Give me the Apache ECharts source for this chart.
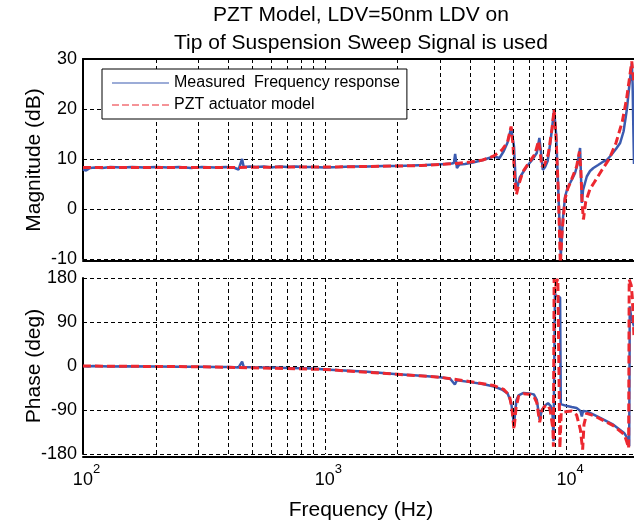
<!DOCTYPE html>
<html><head><meta charset="utf-8">
<script src="https://cdn.jsdelivr.net/npm/echarts@6/dist/echarts.min.js"></script>
<style>html,body{margin:0;padding:0;background:#fff}#c{width:634px;height:527px}</style>
</head><body><div id="c"></div>
<script>
// ---- data ----
const titleLines = ['PZT Model, LDV=50nm LDV on', 'Tip of Suspension Sweep Signal is used'];
const seriesNames = ['Measured  Frequency response', 'PZT actuator model'];
const magTicks = [-10, 0, 10, 20, 30];
const phaseTicks = [-180, -90, 0, 90, 180];
const minorGridFreqs = [200,300,400,500,600,700,800,900,2000,3000,4000,5000,6000,7000,8000,9000];

const measMagFreq = [100,103,107,112,120,130,145,160,180,200,225,250,280,310,350,390,420,440,448,455,462,470,490,520,560,600,650,700,760,820,900,1000,1150,1300,1500,1750,2000,2300,2600,2900,3150,3350,3420,3460,3520,3600,3800,4100,4500,5000,5280,5500,5700,5894,6060,6150,6223,6400,6843,7200,7527,7716,7850,7971,8150,8350,8550,8700,8880,9050,9200,9462,9650,9858,10100,10340,10600,10840,11100,11370,11480,11560,11700,12120,12500,12910,13500,14200,14670,15300,16000,16650,17200,17740,18200,18610,18750,18900,19000];
const measMag = [7.9,7.7,8.2,8.3,8.2,8.4,8.3,8.4,8.3,8.4,8.3,8.4,8.2,8.4,8.3,8.4,8.3,7.9,7.7,10.0,8.4,8.6,8.5,8.4,8.5,8.3,8.5,8.4,8.5,8.4,8.4,8.3,8.4,8.5,8.5,8.6,8.6,8.7,8.8,8.9,9.0,9.1,9.2,11.0,8.2,8.9,9.0,9.3,9.8,10.5,10.2,11.6,13.3,16.2,12.5,6.0,3.8,6.3,8.5,9.8,11.2,14.2,11.0,7.8,8.4,9.6,13.0,16.0,19.8,15.0,6.0,-9.5,-2.0,2.5,4.3,5.2,6.2,7.2,9.0,12.2,6.0,1.2,3.8,6.5,7.6,8.2,8.8,9.5,9.8,10.8,12.0,13.2,15.5,19.8,25.0,29.1,25.0,15.0,9.0];

const modelMagFreq = [100,200,400,700,1000,1500,2000,2500,3000,3500,4000,4500,5000,5400,5700,5894,6000,6100,6200,6350,6600,7000,7400,7650,7750,7900,8100,8400,8700,8880,9050,9250,9420,9600,9850,10100,10500,11000,11300,11450,11600,11740,12000,12500,13000,14000,15000,16000,17000,17700,18300,18600,19000];
const modelMag = [8.3,8.3,8.3,8.4,8.4,8.5,8.6,8.7,8.9,9.1,9.4,9.8,10.6,11.8,13.4,16.5,13.0,6.0,2.9,5.0,7.5,9.3,11.0,13.6,12.0,8.5,8.8,11.0,16.0,19.9,14.0,3.0,-11,-4.0,2.0,4.0,6.0,8.5,11.5,8.0,1.0,-2.1,1.5,4.0,5.3,7.8,10.0,13.2,17.5,22.0,27.0,29.5,25.0];

const measPhFreq = [100,105,110,130,150,200,250,300,350,400,440,455,462,500,600,700,800,900,1000,1200,1500,2000,2500,3000,3300,3450,3520,4000,4500,5000,5400,5700,5900,6060,6200,6330,6640,7000,7320,7527,7740,7900,8100,8380,8600,8750,8830,8950,9000,9150,9400,9462,9525,10060,10500,11000,11400,11560,11700,12120,13000,13770,15600,17300,18000,18150,18250,18500,19000];
const measPh = [0,-1,0,-1,-0.5,-1,-1.5,-1.5,-2,-2,-3,9,-2,-2.5,-3,-4,-4.5,-5,-7,-9,-12,-17,-20,-23,-26,-38,-29,-33,-37,-42,-48,-56,-75,-120,-70,-60,-55,-56,-58,-69,-110,-90,-82,-76,-82,-100,-154,150,145,142,140,-78,-79,-82,-84,-86,-92,-103,-92,-93,-100,-106,-120,-137,-150,-164,122,100,81];

const modelPhFreq = [100,300,1000,2000,3000,4000,5000,5500,5800,5950,6060,6180,6330,6640,7000,7320,7527,7740,7900,8100,8380,8550,8700,8780,8820,8880,8950,9050,9200,9380,9500,10060,10500,11000,11400,11650,11800,12100,13000,13770,15600,17300,17740,18050,18150,18500,18700,19000];
const modelPh = [0,-1.5,-7,-17,-23,-32,-40,-48,-60,-90,-130,-85,-62,-57,-58,-62,-75,-115,-92,-83,-80,-90,-115,-130,-165,178,150,170,178,-168,-95,-93,-92,-100,-130,-171,-120,-97,-102,-108,-122,-140,-155,-168,177,165,140,60];

// ---- chart ----
const FONT = '"Liberation Sans", Arial, Helvetica, sans-serif';
const zip = (a, b) => a.map((v, i) => [v, b[i]]);
const gridLine = { color: '#000', width: 1, type: [4, 3] };
const BLUE = '#3b5bb0', RED = '#ec2830';

// legend icons: thin solid line, thin dashed line
const solidIcon = 'path://M0,0H57V1.2H0Z';
let dashedIcon = 'path://';
for (let i = 0; i < 6; i++) { const x0 = i * 10; dashedIcon += 'M' + x0 + ',0H' + (x0 + 7) + 'V1.2H' + x0 + 'Z'; }

function xAxisBase(gridIndex, showLabels, position, offset) {
  return {
    type: 'log', logBase: 10, min: 100, max: 19000, gridIndex, position, offset,
    axisLine: { show: true, onZero: false, lineStyle: { color: '#000', width: 2 } },
    axisTick: { show: false },
    splitLine: { show: position === 'bottom', lineStyle: gridLine },
    axisLabel: {
      show: showLabels, margin: 6, color: '#000', showMaxLabel: false,
      formatter: v => {
        const e = Math.log10(v);
        if (Math.abs(e - Math.round(e)) > 1e-6) return '';
        return '{p| }{b|10}{s|' + Math.round(e) + '}';
      },
      rich: {
        p: { width: 7, fontSize: 13 },
        b: { fontSize: 18, fontFamily: FONT, color: '#000', lineHeight: 26, verticalAlign: 'bottom' },
        s: { fontSize: 13, fontFamily: FONT, color: '#000', lineHeight: 14, verticalAlign: 'top' }
      }
    }
  };
}
function yAxisBase(gridIndex, ticks) {
  return {
    type: 'value', gridIndex, min: ticks[0], max: ticks[ticks.length - 1],
    interval: ticks[1] - ticks[0],
    axisLine: { show: true, onZero: false, lineStyle: { color: '#000', width: 2 } },
    axisTick: { show: false },
    splitLine: { show: true, lineStyle: gridLine },
    axisLabel: { fontSize: 18, fontFamily: FONT, color: '#000', margin: 6 }
  };
}
function gridHelper(idx) {
  return {
    type: 'line', name: 'grid' + idx, xAxisIndex: idx === 0 ? 0 : 2, yAxisIndex: idx,
    data: [], silent: true, z: 1,
    markLine: {
      silent: true, symbol: ['none', 'none'], label: { show: false }, animation: false,
      lineStyle: gridLine, emphasis: { disabled: true },
      data: minorGridFreqs.map(v => ({ xAxis: v }))
    }
  };
}
function lineSeries(name, xi, yi, data, dashed) {
  return {
    type: 'line', name, xAxisIndex: xi, yAxisIndex: yi, data,
    symbol: 'none', showSymbol: false, clip: true, z: dashed ? 4 : 3,
    lineStyle: dashed ? { color: RED, width: 3, type: [8, 4] } : { color: BLUE, width: 2.5 },
    itemStyle: { color: dashed ? RED : BLUE }
  };
}

const chart = echarts.init(document.getElementById('c'), null, { renderer: 'canvas' });
chart.setOption({
  animation: false,
  backgroundColor: '#fff',
  textStyle: { fontFamily: FONT },
  grid: [
    { left: 83, right: 0, top: 59, height: 200 },
    { left: 83, right: 0, top: 278, height: 176 }
  ],
  xAxis: [
    xAxisBase(0, false, 'bottom', 2),
    Object.assign(xAxisBase(0, false, 'top', 0), { splitLine: { show: false } }),
    xAxisBase(1, true, 'bottom', 3)
  ],
  yAxis: [yAxisBase(0, magTicks), yAxisBase(1, phaseTicks)],
  legend: {
    show: true, orient: 'vertical', left: 102, top: 69, z: 10,
    padding: [6, 7, 6, 10], itemGap: 6, itemWidth: 57, itemHeight: 18,
    backgroundColor: '#fff', borderColor: '#000', borderWidth: 1,
    textStyle: { fontSize: 16, fontFamily: FONT, color: '#000' },
    data: [
      { name: seriesNames[0], icon: solidIcon },
      { name: seriesNames[1], icon: dashedIcon }
    ]
  },
  series: [
    gridHelper(0), gridHelper(1),
    lineSeries(seriesNames[0], 0, 0, zip(measMagFreq, measMag), false),
    lineSeries(seriesNames[1], 0, 0, zip(modelMagFreq, modelMag), true),
    lineSeries(seriesNames[0], 2, 1, zip(measPhFreq, measPh), false),
    lineSeries(seriesNames[1], 2, 1, zip(modelPhFreq, modelPh), true)
  ],
  graphic: [
    { type: 'text', x: 361, y: 15, style: { text: titleLines[0], font: '21px ' + FONT, fill: '#000', textAlign: 'center', textVerticalAlign: 'middle' } },
    { type: 'text', x: 361, y: 43, style: { text: titleLines[1], font: '21px ' + FONT, fill: '#000', textAlign: 'center', textVerticalAlign: 'middle' } },
    { type: 'text', x: 34, y: 160, rotation: Math.PI / 2, style: { text: 'Magnitude (dB)', font: '21px ' + FONT, fill: '#000', textAlign: 'center', textVerticalAlign: 'middle' } },
    { type: 'text', x: 34, y: 366, rotation: Math.PI / 2, style: { text: 'Phase (deg)', font: '21px ' + FONT, fill: '#000', textAlign: 'center', textVerticalAlign: 'middle' } },
    { type: 'text', x: 361, y: 510, style: { text: 'Frequency (Hz)', font: '21px ' + FONT, fill: '#000', textAlign: 'center', textVerticalAlign: 'middle' } }
  ]
});
</script></body></html>
